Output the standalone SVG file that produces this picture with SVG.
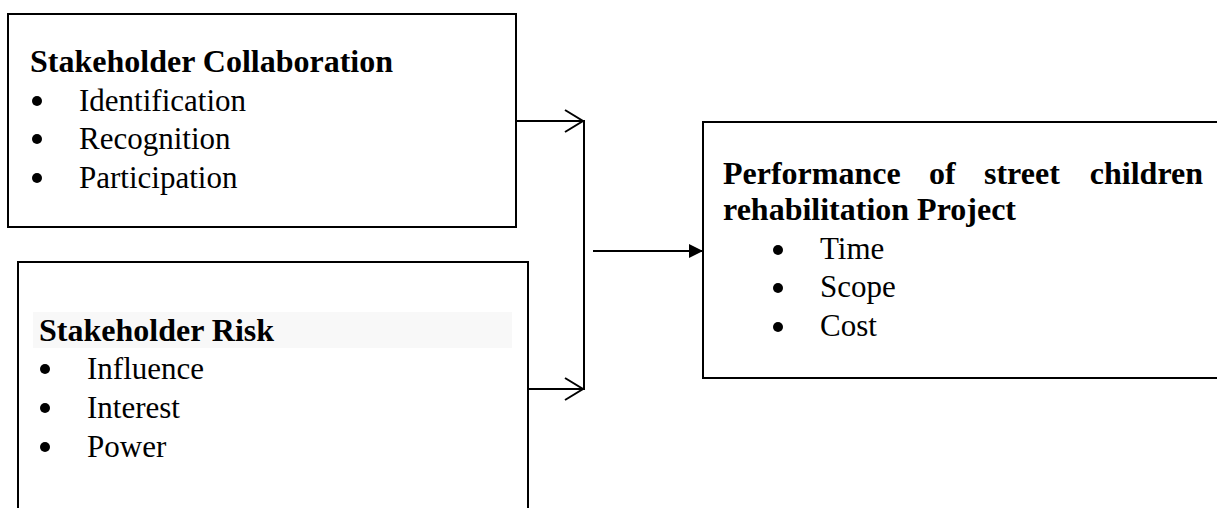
<svg xmlns="http://www.w3.org/2000/svg" width="1217" height="508" viewBox="0 0 1217 508">
<defs>
<style>
.box{fill:#fff;stroke:#000;stroke-width:2}
.t{font-family:"Liberation Serif","Times New Roman",serif;font-size:31px;fill:#000}
.b{font-weight:bold;font-size:32px}
.dot{fill:#000}
.ln{stroke:#000;stroke-width:2;fill:none}
</style>
<marker id="open" markerWidth="22" markerHeight="26" refX="19" refY="13" orient="auto" markerUnits="userSpaceOnUse">
<path d="M1,2 L19,13 L1,24" fill="none" stroke="#000" stroke-width="2"/>
</marker>
<marker id="fill" markerWidth="16" markerHeight="16" refX="14" refY="8" orient="auto" markerUnits="userSpaceOnUse">
<path d="M0,1 L14,8 L0,15 Z" fill="#000"/>
</marker>
</defs>
<rect width="1217" height="508" fill="#fff"/>
<g id="connectors">
<line class="ln" x1="516" y1="121" x2="583" y2="121" marker-end="url(#open)"/>
<line class="ln" x1="528" y1="389" x2="583" y2="389" marker-end="url(#open)"/>
<line class="ln" x1="584" y1="120" x2="584" y2="390"/>
<line class="ln" x1="593" y1="251" x2="703" y2="251" marker-end="url(#fill)"/>
</g>
<g id="node-collaboration">
<rect class="box" x="8" y="14" width="508" height="213"/>
<text class="t b" x="30" y="72">Stakeholder Collaboration</text>
<circle class="dot" cx="37" cy="101" r="5"/>
<text class="t" x="79" y="111">Identification</text>
<circle class="dot" cx="37" cy="139" r="5"/>
<text class="t" x="79" y="149">Recognition</text>
<circle class="dot" cx="37" cy="178" r="5"/>
<text class="t" x="79" y="188">Participation</text>
</g>
<g id="node-risk">
<rect class="box" x="18" y="262" width="510" height="260"/>
<rect x="33" y="312" width="479" height="36" fill="#f8f8f8"/>
<text class="t b" x="39" y="341">Stakeholder Risk</text>
<circle class="dot" cx="45" cy="369" r="5"/>
<text class="t" x="87" y="379">Influence</text>
<circle class="dot" cx="45" cy="408" r="5"/>
<text class="t" x="87" y="418">Interest</text>
<circle class="dot" cx="45" cy="447" r="5"/>
<text class="t" x="87" y="457">Power</text>
</g>
<g id="node-performance">
<rect class="box" x="703" y="122" width="530" height="256"/>
<text class="t b" x="723" y="184">Performance</text>
<text class="t b" x="929" y="184">of</text>
<text class="t b" x="984" y="184">street</text>
<text class="t b" x="1203" y="184" text-anchor="end">children</text>
<text class="t b" x="723" y="220">rehabilitation Project</text>
<circle class="dot" cx="778" cy="250" r="5"/>
<text class="t" x="820" y="259">Time</text>
<circle class="dot" cx="778" cy="288" r="5"/>
<text class="t" x="820" y="297">Scope</text>
<circle class="dot" cx="778" cy="327" r="5"/>
<text class="t" x="820" y="336">Cost</text>
</g>
</svg>
